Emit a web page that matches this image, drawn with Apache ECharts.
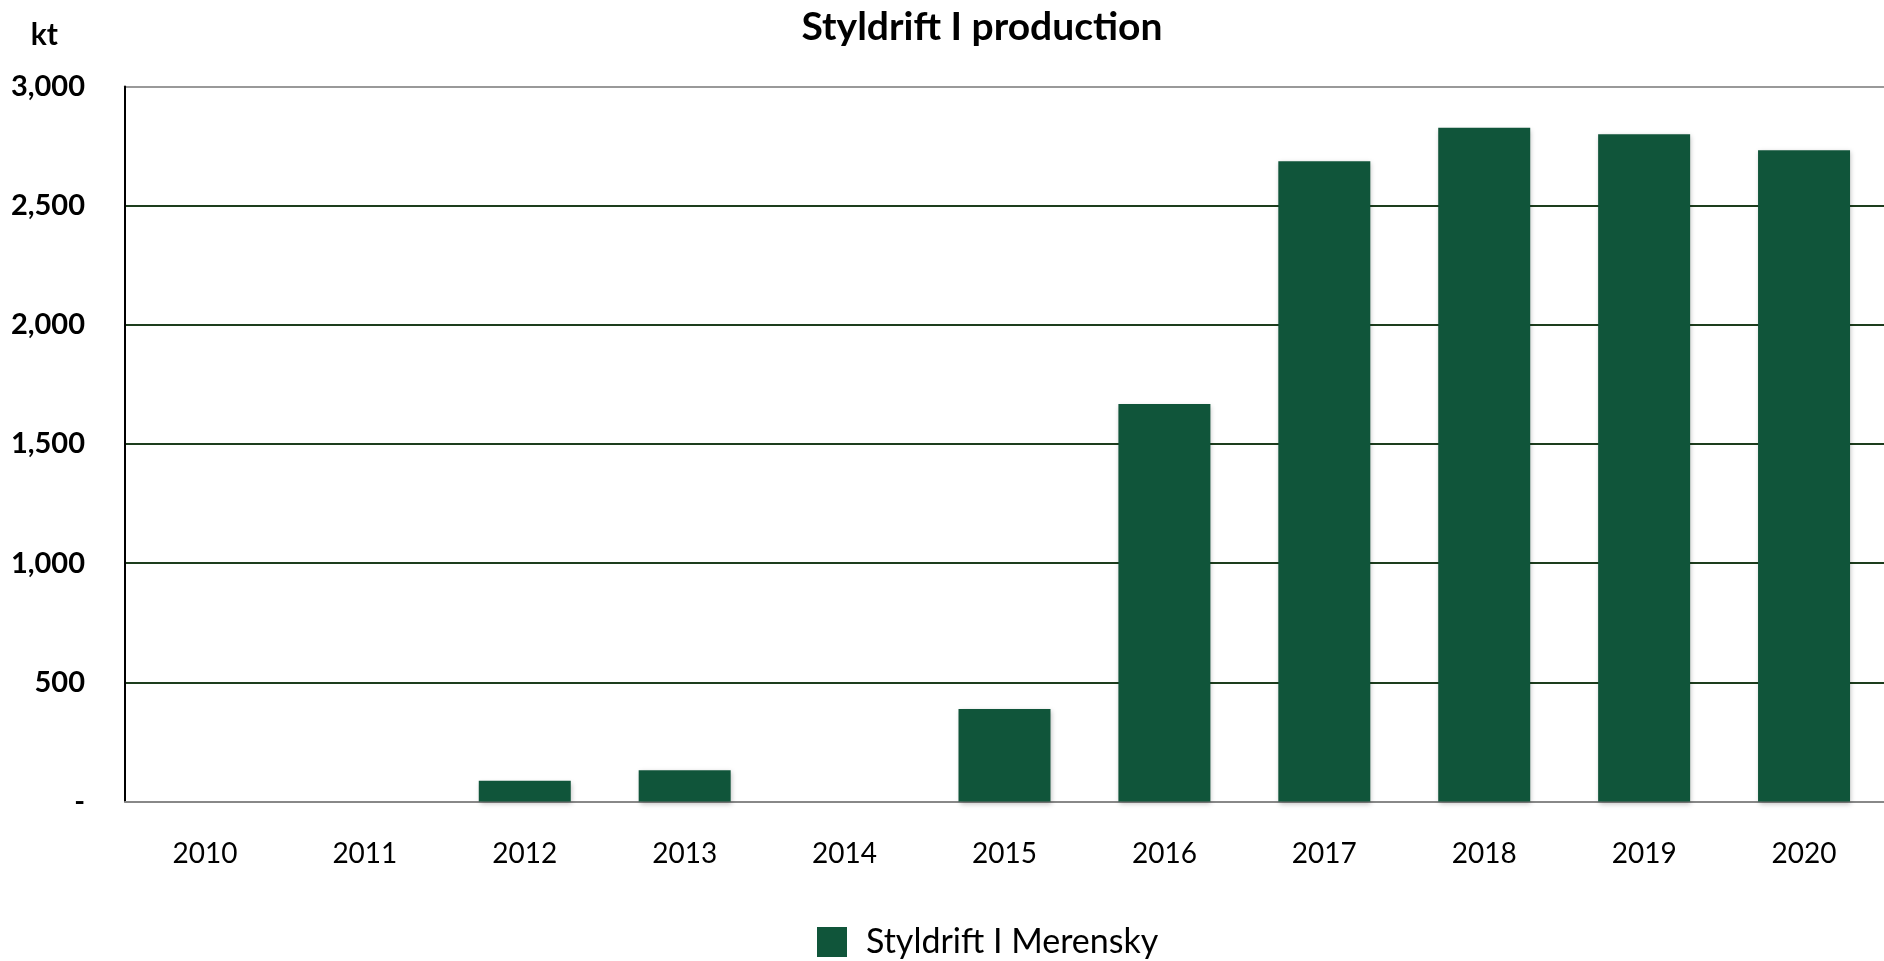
<!DOCTYPE html>
<html>
<head>
<meta charset="utf-8">
<script src="https://cdn.jsdelivr.net/npm/echarts@6/dist/echarts.min.js"></script>
<style>
    html, body { margin: 0; padding: 0; background: #ffffff; }
    #chart { width: 1884px; height: 961px; }
</style>
</head>
<body>
<div id="chart"></div>
<script>
// Data
var years = ['2010', '2011', '2012', '2013', '2014', '2015', '2016', '2017', '2018', '2019', '2020'];
var merensky = [0, 0, 87, 131, 0, 388, 1668, 2686, 2827, 2800, 2732];
var seriesName = 'Styldrift I Merensky';

var chart_element = document.getElementById('chart');
var chart = echarts.init(chart_element);

var options = {
    animation: false,
    textStyle: {
        fontFamily: 'Lato, "Open Sans", sans-serif'
    },
    // Title
    title: {
        text: 'Styldrift I production',
        left: 977,
        textAlign: 'center',
        top: 3,
        textStyle: {
            fontSize: 39,
            fontWeight: 'bold',
            color: '#000'
        }
    },
    // Legend
    legend: {
        top: 920,
        left: 812,
        itemWidth: 30,
        itemHeight: 30,
        itemGap: 20,
        textStyle: {
            fontSize: 34,
            color: '#000',
            padding: [0, 0, 0, 14]
        },
        data: [{ name: seriesName, icon: 'rect' }]
    },
    grid: {
        left: 125,
        top: 86.5,
        width: 1766,
        height: 715,
        containLabel: false
    },
    xAxis: {
        type: 'category',
        data: years,
        axisLine: { lineStyle: { color: '#888888', width: 2 } },
        axisTick: { show: false },
        axisLabel: {
            margin: 38,
            fontSize: 28,
            color: '#000'
        }
    },
    yAxis: {
        type: 'value',
        name: 'kt',
        nameLocation: 'end',
        nameGap: 36,
        nameTextStyle: {
            fontSize: 30,
            fontWeight: 'bold',
            color: '#000',
            align: 'right',
            padding: [0, 67, 0, 0]
        },
        min: 0,
        max: 3000,
        interval: 500,
        axisLine: { show: true, lineStyle: { color: '#000', width: 2 } },
        axisTick: { show: false },
        axisLabel: {
            margin: 40,
            fontSize: 29,
            fontWeight: 'bold',
            color: '#000',
            formatter: function (v) {
                return v === 0 ? '-' : v.toLocaleString('en-US');
            }
        },
        splitLine: {
            lineStyle: {
                color: ['#888888', '#1d3d1d', '#1d3d1d', '#1d3d1d', '#1d3d1d', '#1d3d1d', '#999999'],
                width: 2
            }
        }
    },
    series: [
        {
            name: seriesName,
            type: 'bar',
            barWidth: 92,
            itemStyle: {
                color: '#10553a',
                shadowColor: 'rgba(0,0,0,0.25)',
                shadowBlur: 5,
                shadowOffsetX: 1,
                shadowOffsetY: 2
            },
            data: merensky
        }
    ]
};

chart.setOption(options);
</script>
</body>
</html>
